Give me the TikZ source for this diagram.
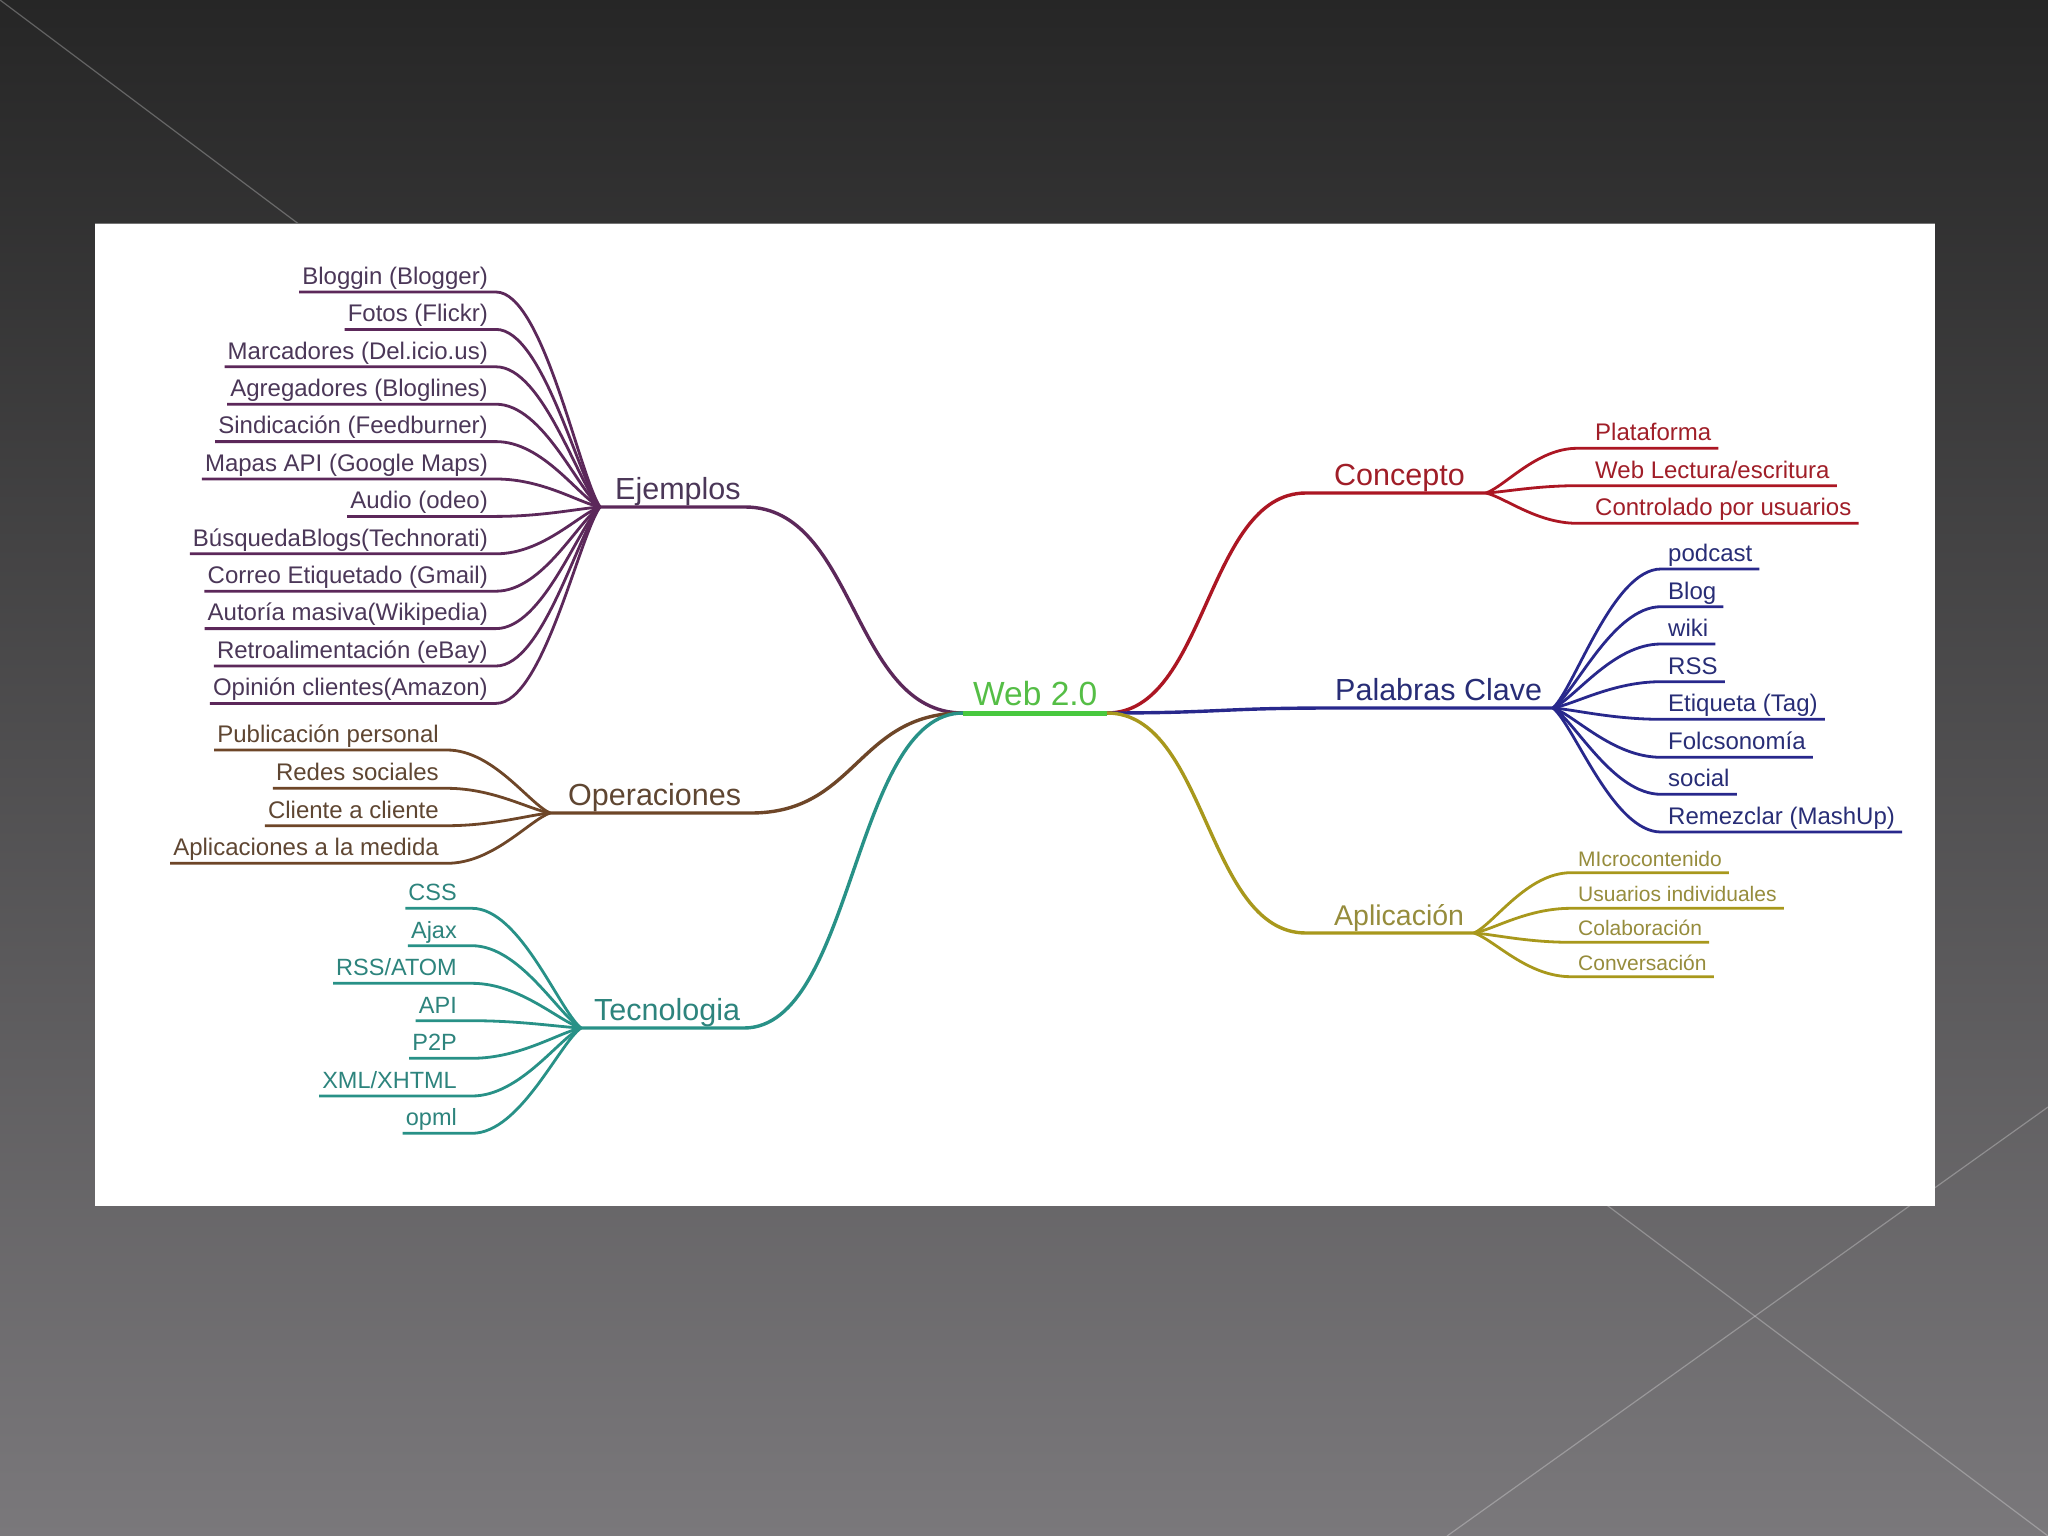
\documentclass[tikz,border=0pt]{standalone}
\usepackage{fontspec}
\setmainfont{Liberation Sans}
\usetikzlibrary{calc}
\definecolor{bgTop}{RGB}{38,38,38}
\definecolor{bgBot}{RGB}{122,120,123}
\definecolor{purpL}{RGB}{92,40,90}
\definecolor{purpT}{RGB}{75,55,88}
\definecolor{brownL}{RGB}{110,70,40}
\definecolor{brownT}{RGB}{95,70,50}
\definecolor{tealL}{RGB}{40,145,135}
\definecolor{tealT}{RGB}{45,132,125}
\definecolor{redL}{RGB}{172,22,35}
\definecolor{redT}{RGB}{160,30,40}
\definecolor{blueL}{RGB}{40,40,140}
\definecolor{blueT}{RGB}{40,45,118}
\definecolor{oliveL}{RGB}{168,152,28}
\definecolor{oliveT}{RGB}{150,140,60}
\definecolor{greenL}{RGB}{72,200,62}
\definecolor{greenT}{RGB}{85,190,70}
\tikzset{
  leaf/.style={inner xsep=3pt, inner ysep=2pt, text height=17.5pt, text depth=5.5pt, font=\fontsize{24}{28}\selectfont},
  leafL/.style={leaf, anchor=south east},
  leafR/.style={leaf, anchor=south west, inner xsep=7pt},
  smallleaf/.style={leafR, text height=15.5pt, text depth=4.5pt, font=\fontsize{21}{25}\selectfont},
  topic/.style={inner sep=0pt, anchor=base west, font=\fontsize{30.5}{36}\selectfont},
  leafline/.style={line width=2.8pt},
  mainline/.style={line width=3.4pt},
  diag/.style={white, opacity=0.28, line width=1.2pt}
}
\begin{document}
\begin{tikzpicture}[x=1pt,y=-1pt]
\useasboundingbox (0,0) rectangle (2048,1536);
\shade[top color=bgTop, bottom color=bgBot] (0,0) rectangle (2048,1536);
\draw[diag] (0,0) -- (2048,1536);
\draw[diag] (2048,1107) -- (1447,1536);
\fill[white] (95,223) rectangle (1935,1206);
\draw[black!55, line width=1pt] (95,223) -- (1935,223);

% central coordinates
\coordinate (wL) at (963,713);
\coordinate (wR) at (1107,713);
\coordinate (ejS) at (745,507);  \coordinate (ejH) at (600,507);
\coordinate (opS) at (751,813);  \coordinate (opH) at (550,813);
\coordinate (tcS) at (744,1028); \coordinate (tcH) at (581,1028);
\coordinate (coS) at (1306,493); \coordinate (coH) at (1486,493);
\coordinate (paS) at (1333,708); \coordinate (paH) at (1553,708);
\coordinate (apS) at (1306,933); \coordinate (apH) at (1474,933);

% topic labels
\node[topic, text=greenT, font=\fontsize{33.5}{40}\selectfont] (web) at (973,705) {Web 2.0};
\node[topic, text=purpT] (ejemplos) at (615,499) {Ejemplos};
\node[topic, text=brownT] (operaciones) at (568,805) {Operaciones};
\node[topic, text=tealT] (tecnologia) at (594,1020) {Tecnologia};
\node[topic, text=redT] (concepto) at (1334,485) {Concepto};
\node[topic, text=blueT] (palabras) at (1335,700) {Palabras Clave};
\node[topic, text=oliveT, font=\fontsize{28.5}{34}\selectfont] (aplicacion) at (1334,925) {Aplicación};

% main branches
\draw[purpL, mainline] (wL) .. controls +(-112,0) and +(112,0) .. (ejS) -- (ejH);
\draw[brownL, mainline] (wL) .. controls +(-106,0) and +(106,0) .. (opS) -- (opH);
\draw[tealL, mainline] (wL) .. controls +(-110,0) and +(110,0) .. (tcS) -- (tcH);
\draw[redL, mainline] (wR) .. controls +(100,0) and +(-100,0) .. (coS) -- (coH);
\draw[blueL, mainline] (wR) .. controls +(113,0) and +(-113,0) .. (paS) -- (paH);
\draw[oliveL, mainline] (wR) .. controls +(100,0) and +(-100,0) .. (apS) -- (apH);
\draw[greenL, line width=5pt] (wL) -- (wR);

% Ejemplos
\foreach \i/\y/\t in {1/292/{Bloggin (Blogger)}, 2/329.4/{Fotos (Flickr)}, 3/366.8/{Marcadores (Del.icio.us)}, 4/404.2/{Agregadores (Bloglines)}, 5/441.6/{Sindicación (Feedburner)}, 6/479/{Mapas API (Google Maps)}, 7/516.4/{Audio (odeo)}, 8/553.8/{BúsquedaBlogs(Technorati)}, 9/591.2/{Correo Etiquetado (Gmail)}, 10/628.6/{Autoría masiva(Wikipedia)}, 11/666/{Retroalimentación (eBay)}, 12/703.4/{Opinión clientes(Amazon)}} {
  \node[leafL, text=purpT] (ej\i) at (491,\y) {\t};
  \pgfmathsetmacro\cy{0.15*(\y-507)}
  \draw[purpL, leafline] (ejH) .. controls +(-21,\cy) and +(47,0) .. ([xshift=5pt]ej\i.south east) -- (ej\i.south west);
}

% Operaciones
\foreach \i/\y/\t in {1/750/{Publicación personal}, 2/788.3/{Redes sociales}, 3/825.7/{Cliente a cliente}, 4/863.3/{Aplicaciones a la medida}} {
  \node[leafL, text=brownT] (op\i) at (442,\y) {\t};
  \pgfmathsetmacro\cy{0.15*(\y-813)}
  \draw[brownL, leafline] (opH) .. controls +(-21,\cy) and +(46,0) .. ([xshift=5pt]op\i.south east) -- (op\i.south west);
}

% Tecnologia
\foreach \i/\y/\t in {1/908.3/{CSS}, 2/945.7/{Ajax}, 3/983.3/{RSS/ATOM}, 4/1020.7/{API}, 5/1058.3/{P2P}, 6/1096/{XML/XHTML}, 7/1133.3/{opml}} {
  \node[leafL, text=tealT, font=\fontsize{23.5}{28}\selectfont] (tc\i) at (460,\y) {\t};
  \pgfmathsetmacro\cy{0.15*(\y-1028)}
  \draw[tealL, leafline] (tcH) .. controls +(-22,\cy) and +(48,0) .. ([xshift=12pt]tc\i.south east) -- (tc\i.south west);
}

% Concepto
\foreach \i/\y/\t in {1/448.3/{Plataforma}, 2/485.7/{Web Lectura/escritura}, 3/523.3/{Controlado por usuarios}} {
  \node[leafR, text=redT] (co\i) at (1588,\y) {\t};
  \pgfmathsetmacro\cy{0.15*(\y-493)}
  \draw[redL, leafline] (coH) .. controls +(19,\cy) and +(-40,0) .. ([xshift=-11pt]co\i.south west) -- (co\i.south east);
}

% Palabras Clave
\foreach \i/\y/\t in {1/569/{podcast}, 2/606.7/{Blog}, 3/644/{wiki}, 4/681.7/{RSS}, 5/719.3/{Etiqueta (Tag)}, 6/757.3/{Folcsonomía}, 7/794.3/{social}, 8/832/{Remezclar (MashUp)}} {
  \node[leafR, text=blueT] (pa\i) at (1661,\y) {\t};
  \pgfmathsetmacro\cy{0.15*(\y-708)}
  \draw[blueL, leafline] (paH) .. controls +(22,\cy) and +(-48,0) .. (pa\i.south west) -- (pa\i.south east);
}

% Aplicacion
\foreach \i/\y/\t in {1/872.7/{MIcrocontenido}, 2/908.3/{Usuarios individuales}, 3/942.3/{Colaboración}, 4/976.7/{Conversación}} {
  \node[smallleaf, text=oliveT] (ap\i) at (1571,\y) {\t};
  \pgfmathsetmacro\cy{0.15*(\y-933)}
  \draw[oliveL, leafline] (apH) .. controls +(20,\cy) and +(-44,0) .. (ap\i.south west) -- (ap\i.south east);
}
\end{tikzpicture}
\end{document}
